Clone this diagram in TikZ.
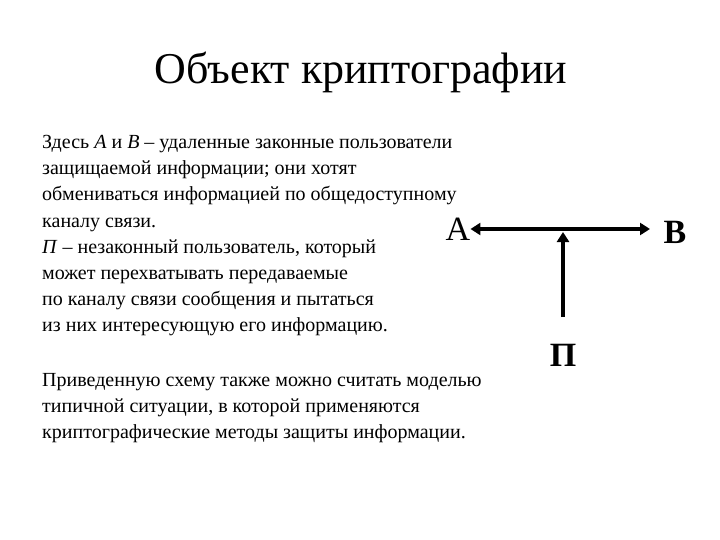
\documentclass[tikz,border=0pt]{standalone}
\usepackage{fontspec}
\setmainfont{Liberation Serif}
\usetikzlibrary{arrows.meta}
\begin{document}
\begin{tikzpicture}[x=1pt,y=-1pt,
  ln/.style={anchor=base west,inner sep=0pt,font=\fontsize{20}{22}\selectfont},
  lbl/.style={inner sep=0pt,font=\fontsize{34}{36}\selectfont\bfseries},
  arr/.style={line width=4pt,-{Triangle[length=10pt,width=12pt]}}]
\useasboundingbox (0,0) rectangle (720,540);
\node[inner sep=0pt,font=\fontsize{44}{46}\selectfont] (title) at (361,72) {Объект криптографии};
\node[ln] (l1) at (42,149) {Здесь \textit{A} и \textit{B} – удаленные законные пользователи};
\node[ln] (l2) at (42,175) {защищаемой информации; они хотят};
\node[ln] (l3) at (42,201) {обмениваться информацией по общедоступному};
\node[ln] (l4) at (42,227) {каналу связи.};
\node[ln] (l5) at (42,253) {\textit{П} – незаконный пользователь, который};
\node[ln] (l6) at (42,279) {может перехватывать передаваемые};
\node[ln] (l7) at (42,305) {по каналу связи сообщения и пытаться};
\node[ln] (l8) at (42,331) {из них интересующую его информацию.};
\node[ln] (l9) at (42,386) {Приведенную схему также можно считать моделью};
\node[ln] (l10) at (42,412) {типичной ситуации, в которой применяются};
\node[ln] (l11) at (42,438) {криптографические методы защиты информации.};
\node[lbl,font=\fontsize{34}{36}\selectfont] (A) at (458,229) {A};
\node[lbl] (B) at (675,232) {B};
\node[lbl] (P) at (563,355) {П};
\coordinate (M) at (563,229);
\coordinate (Bend) at (650,229);
\coordinate (Pt) at (563,317);
\coordinate (Ptop) at (563,232);
\draw[arr] (M) -- (A.east);
\draw[arr] (M) -- (Bend);
\draw[arr] (Pt) -- (Ptop);
\end{tikzpicture}
\end{document}
